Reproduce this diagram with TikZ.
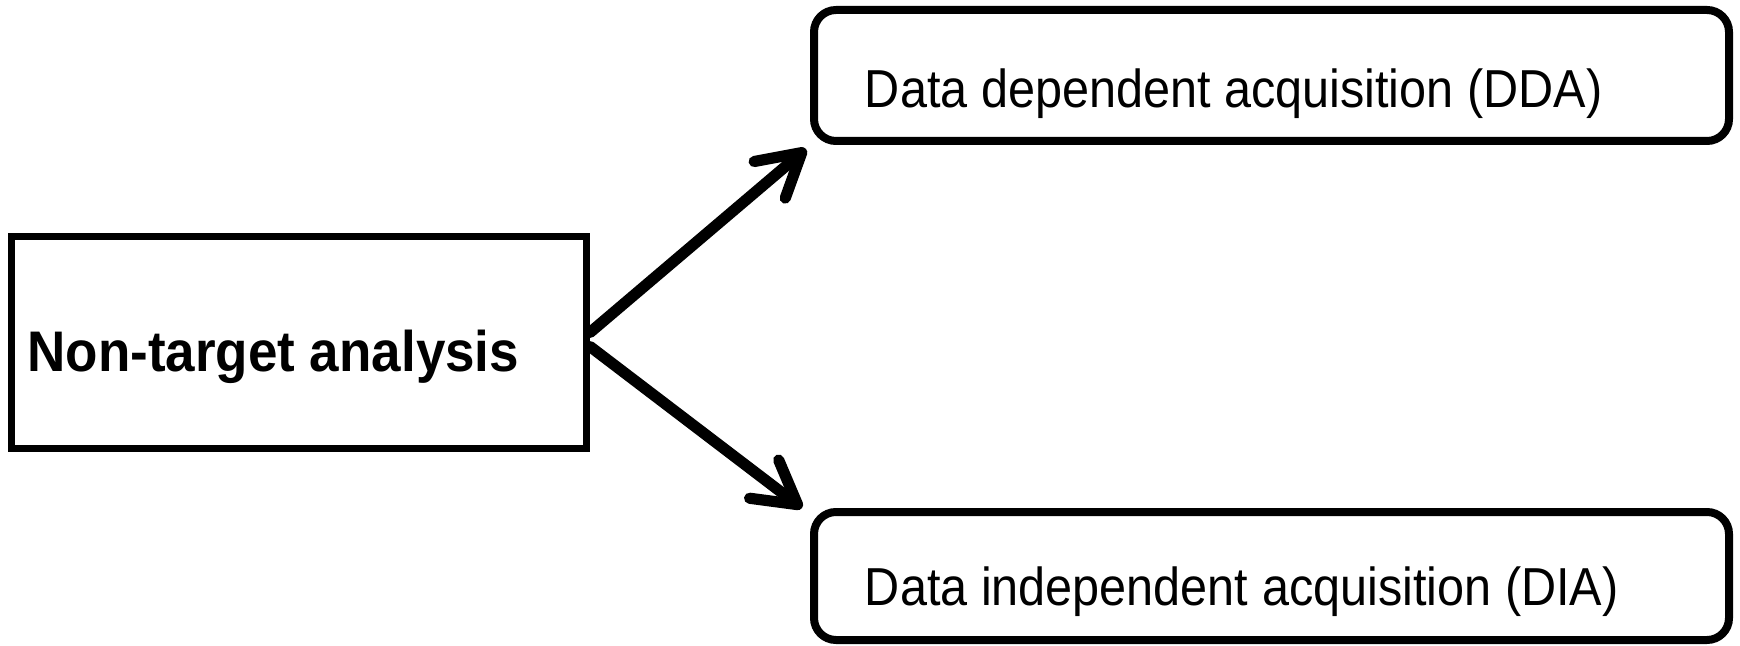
\documentclass[tikz,border=0pt]{standalone}
\usepackage{fontspec}
\setmainfont{Liberation Sans}
\usetikzlibrary{arrows.meta}
\tikzset{
  box/.style={draw=black, line width=3.6pt, fill=white, inner sep=0pt},
  roundbox/.style={box, line width=4pt, rounded corners=11pt},
  boldtxt/.style={inner sep=0pt, font=\fontsize{26.5pt}{30pt}\selectfont\bfseries},
  plaintxt/.style={inner sep=0pt, font=\fontsize{24.3pt}{28pt}\selectfont},
  arr/.style={line width=5.6pt, line cap=round, line join=round,
    -{Straight Barb[length=21pt, width=24pt, line cap=round, line join=round]}}
}
\begin{document}
\begin{tikzpicture}[x=0.5pt, y=-0.5pt]
  \useasboundingbox (0,0) rectangle (1740,646);
  % left box
  \node[box, minimum width=287.4pt, minimum height=105.9pt] (nta) at (299,342.5) {};
  \node[boldtxt, anchor=base west] (ntatxt) at (27,372) {\scalebox{1}[1.08]{Non-target analysis}};
  % right boxes
  \node[roundbox, minimum width=457.5pt, minimum height=65.5pt] (dda) at (1271.5,75.5) {};
  \node[plaintxt, anchor=base west] (ddatxt) at (864.5,107.6) {\scalebox{1}[1.1]{Data dependent acquisition (DDA)}};
  \node[roundbox, minimum width=457.5pt, minimum height=64pt] (dia) at (1271.5,576) {};
  \node[plaintxt, anchor=base west] (diatxt) at (864.5,605) {\scalebox{1}[1.1]{Data independent acquisition (DIA)}};
  % connectors
  \draw[arr] ([yshift=5pt]nta.east) -- ([xshift=-2pt,yshift=-2pt]dda.south west);
  \draw[arr] ([yshift=-2pt]nta.east) -- ([xshift=-4pt,yshift=0pt]dia.north west);
\end{tikzpicture}
\end{document}
